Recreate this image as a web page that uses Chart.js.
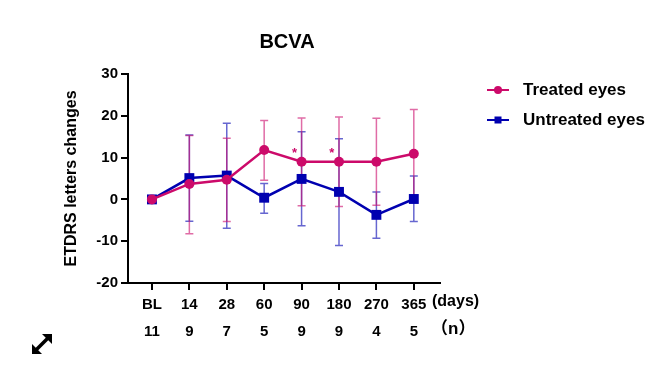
<!DOCTYPE html>
<html>
<head>
<meta charset="utf-8">
<script src="https://cdn.jsdelivr.net/npm/chart.js@4"></script>
<style>
  html, body { margin: 0; padding: 0; background: #fff; }
  #wrap { position: relative; width: 656px; height: 369px; }
  #icon { position: absolute; left: 28px; top: 330px; }
</style>
</head>
<body>
<div id="wrap">
  <canvas id="chart" width="656" height="369"></canvas>
  <svg id="icon" width="28" height="28" viewBox="0 0 28 28">
    <line x1="7" y1="21" x2="21" y2="7" stroke="#000" stroke-width="3.5"/>
    <polygon points="24,4 24,14 14,4" fill="#000"/>
    <polygon points="4,24 4,14 14,24" fill="#000"/>
  </svg>
</div>
<script>
// time points and number of eyes
const days = ["BL", "14", "28", "60", "90", "180", "270", "365"];
const nEyes = ["11", "9", "7", "5", "9", "9", "4", "5"];

// mean change in ETDRS letters
const treated = [0, 3.7, 4.7, 11.8, 9.0, 9.0, 9.0, 10.9];
const treatedHi = [0, 15.3, 14.6, 18.9, 19.5, 19.7, 19.4, 21.5];
const treatedLo = [0, -8.2, -5.3, 4.6, -1.5, -1.7, -1.4, 0.6];

const untreated = [0, 5.1, 5.7, 0.4, 4.9, 1.8, -3.7, 0.1];
const untreatedHi = [0, 15.4, 18.2, 3.8, 16.2, 14.5, 1.8, 5.6];
const untreatedLo = [0, -5.2, -6.9, -3.3, -6.3, -11.0, -9.3, -5.3];

// significance marks
const starIdx = [4, 5];
const starVal = 11.6;

const yTicks = [-20, -10, 0, 10, 20, 30];

const PINK = "#cc0a6a";
const BLUE = "#0000b0";
const FONT = "'Liberation Sans', Arial, sans-serif";

const series = [
    { label: "Treated eyes", color: PINK, bar: "rgba(204,10,106,0.6)", style: "circle", hi: treatedHi, lo: treatedLo },
    { label: "Untreated eyes", color: BLUE, bar: "rgba(0,0,176,0.6)", style: "rect", hi: untreatedHi, lo: untreatedLo }
];

// error bars drawn under the lines
const errorBars = {
    id: "errorBars",
    beforeDatasetsDraw(chart) {
        const ctx = chart.ctx;
        const xs = chart.scales.x, ys = chart.scales.y;
        ctx.save();
        ctx.lineWidth = 1.5;
        series.slice().reverse().forEach(s => {
            ctx.strokeStyle = s.bar;
            s.hi.forEach((h, i) => {
                if (h === s.lo[i]) return;
                const x = xs.getPixelForValue(i);
                const yt = ys.getPixelForValue(h);
                const yb = ys.getPixelForValue(s.lo[i]);
                ctx.beginPath();
                ctx.moveTo(x, yt); ctx.lineTo(x, yb);
                ctx.moveTo(x - 4, yt); ctx.lineTo(x + 4, yt);
                ctx.moveTo(x - 4, yb); ctx.lineTo(x + 4, yb);
                ctx.stroke();
            });
        });
        ctx.restore();
    }
};

// title, stars, legend, axis unit labels
const extras = {
    id: "extras",
    afterDraw(chart) {
        const ctx = chart.ctx;
        const xs = chart.scales.x, ys = chart.scales.y;
        const area = chart.chartArea;
        ctx.save();
        ctx.fillStyle = "#000";
        ctx.textAlign = "center";
        ctx.textBaseline = "middle";
        ctx.font = "bold 20px " + FONT;
        ctx.fillText("BCVA", (area.left + area.right) / 2 + 3, 42);

        ctx.fillStyle = PINK;
        ctx.font = "bold 13px " + FONT;
        starIdx.forEach(i => {
            ctx.fillText("*", xs.getPixelForValue(i - 0.19), ys.getPixelForValue(starVal) + 3);
        });

        ctx.fillStyle = "#000";
        ctx.textAlign = "left";
        ctx.font = "bold 16px " + FONT;
        ctx.fillText("(days)", 432, 302);
        ctx.font = "bold 17px " + FONT + ", 'Noto Sans CJK SC'";
        ctx.fillText("（n）", 431, 329);

        series.forEach((s, k) => {
            const y = 90 + k * 30;
            ctx.strokeStyle = s.color;
            ctx.fillStyle = s.color;
            ctx.lineWidth = 2;
            ctx.beginPath();
            ctx.moveTo(487, y); ctx.lineTo(509, y);
            ctx.stroke();
            if (s.style === "circle") {
                ctx.beginPath();
                ctx.arc(498, y, 4, 0, Math.PI * 2);
                ctx.fill();
            } else {
                ctx.fillRect(494.5, y - 3.5, 7, 7);
            }
            ctx.fillStyle = "#000";
            ctx.font = "bold 17px " + FONT;
            ctx.fillText(s.label, 523, y);
        });
        ctx.restore();
    }
};

const toPoints = arr => arr.map((v, i) => ({ x: i, y: v }));

new Chart(document.getElementById("chart").getContext("2d"), {
    type: "line",
    data: {
        datasets: [
            {
                label: series[0].label,
                data: toPoints(treated),
                borderColor: PINK,
                backgroundColor: PINK,
                borderWidth: 2.5,
                pointStyle: "circle",
                pointRadius: 5,
                pointBorderWidth: 0
            },
            {
                label: series[1].label,
                data: toPoints(untreated),
                borderColor: BLUE,
                backgroundColor: BLUE,
                borderWidth: 2.5,
                pointStyle: "rect",
                pointRadius: 7,
                pointBorderWidth: 0
            }
        ]
    },
    options: {
        responsive: false,
        animation: false,
        layout: { padding: { top: 74, right: 216, left: 0, bottom: 0 } },
        plugins: {
            legend: { display: false },
            title: { display: false },
            tooltip: { enabled: false }
        },
        scales: {
            x: {
                type: "linear",
                min: -0.64,
                max: 7.7,
                afterBuildTicks: scale => { scale.ticks = days.map((d, i) => ({ value: i })); },
                afterFit: scale => { scale.height = 86; },
                ticks: {
                    color: "#000",
                    font: { family: FONT, size: 15, weight: "bold", lineHeight: 1.75 },
                    padding: 2,
                    maxRotation: 0,
                    autoSkip: false,
                    callback: v => [days[v], nEyes[v]]
                },
                grid: { drawOnChartArea: false, color: "#000", lineWidth: 2, tickLength: 7 },
                border: { color: "#000", width: 2 }
            },
            y: {
                min: -20,
                max: 30,
                afterBuildTicks: scale => { scale.ticks = yTicks.map(v => ({ value: v })); },
                afterFit: scale => { scale.width = 128; },
                ticks: {
                    color: "#000",
                    font: { family: FONT, size: 15, weight: "bold" },
                    padding: 3
                },
                grid: { drawOnChartArea: false, color: "#000", lineWidth: 2, tickLength: 7 },
                border: { color: "#000", width: 2 },
                title: {
                    display: true,
                    text: "ETDRS letters changes",
                    color: "#000",
                    font: { family: FONT, size: 16, weight: "bold" },
                    padding: { top: 62, bottom: 0 }
                }
            }
        }
    },
    plugins: [errorBars, extras]
});
</script>
</body>
</html>
